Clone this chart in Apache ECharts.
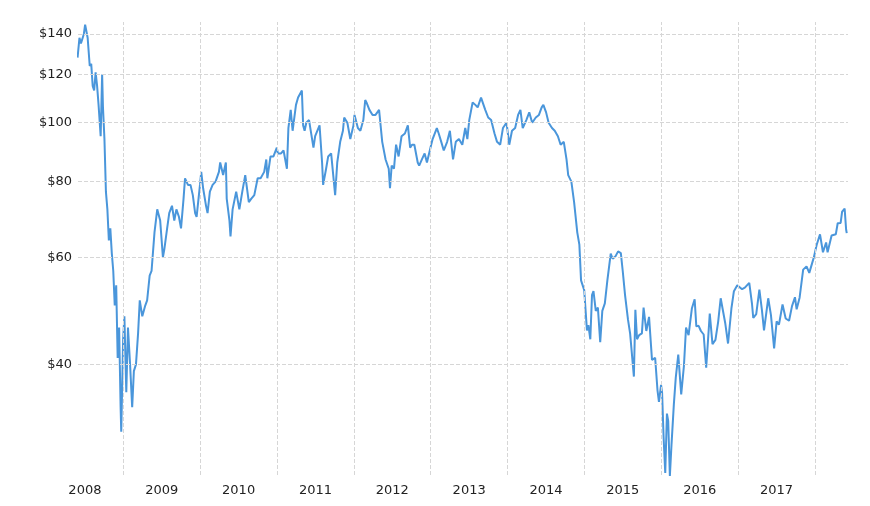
<!DOCTYPE html>
<html><head><meta charset="utf-8">
<script src="https://cdn.jsdelivr.net/npm/echarts@6/dist/echarts.min.js"></script>
<style>html,body{margin:0;padding:0;background:#fff}#c{width:870px;height:506px}</style>
</head><body><div id="c"></div>
<script>
var dates = ["2008-05-28","2008-06-06","2008-06-13","2008-06-20","2008-06-27","2008-07-03","2008-07-11","2008-07-15","2008-07-25","2008-08-01","2008-08-08","2008-08-15","2008-08-22","2008-08-29","2008-09-05","2008-09-15","2008-09-22","2008-09-26","2008-10-03","2008-10-10","2008-10-17","2008-10-24","2008-10-31","2008-11-07","2008-11-14","2008-11-21","2008-11-28","2008-12-05","2008-12-12","2008-12-19","2008-12-22","2008-12-31",
"2009-01-06","2009-01-15","2009-01-23","2009-02-02","2009-02-12","2009-02-20","2009-03-02","2009-03-12","2009-03-20","2009-04-01","2009-04-15","2009-04-24","2009-05-06","2009-05-15","2009-05-29","2009-06-11","2009-06-25","2009-07-08","2009-07-15","2009-07-28","2009-08-07","2009-08-20","2009-08-31","2009-09-10","2009-09-22","2009-10-02","2009-10-14","2009-10-21","2009-11-04","2009-11-16","2009-11-27","2009-12-08","2009-12-15","2009-12-31",
"2010-01-06","2010-01-15","2010-01-29","2010-02-05","2010-02-16","2010-03-01","2010-03-15","2010-03-31","2010-04-06","2010-04-20","2010-05-03","2010-05-07","2010-05-20","2010-05-25","2010-06-04","2010-06-21","2010-07-06","2010-07-20","2010-08-03","2010-08-20","2010-09-01","2010-09-15","2010-10-01","2010-10-15","2010-11-01","2010-11-11","2010-11-16","2010-12-01","2010-12-15","2010-12-31",
"2011-01-05","2011-01-20","2011-02-01","2011-02-17","2011-02-24","2011-03-07","2011-03-16","2011-04-01","2011-04-11","2011-04-29","2011-05-05","2011-05-12","2011-05-20","2011-06-02","2011-06-23","2011-07-01","2011-07-22","2011-08-03","2011-08-08","2011-08-22","2011-09-01","2011-09-15","2011-10-04","2011-10-14","2011-10-28","2011-11-10","2011-11-16","2011-12-01","2011-12-15","2011-12-30",
"2012-01-04","2012-01-20","2012-02-01","2012-02-15","2012-02-24","2012-03-01","2012-03-15","2012-03-30","2012-04-13","2012-04-30","2012-05-15","2012-05-31","2012-06-15","2012-06-21","2012-06-29","2012-07-10","2012-07-20","2012-08-01","2012-08-15","2012-08-31","2012-09-14","2012-09-25","2012-10-04","2012-10-15","2012-10-31","2012-11-07","2012-11-20","2012-12-03","2012-12-14","2012-12-31",
"2013-01-10","2013-01-30","2013-02-08","2013-02-20","2013-03-04","2013-03-20","2013-04-02","2013-04-17","2013-04-30","2013-05-15","2013-05-31","2013-06-14","2013-06-24","2013-07-03","2013-07-19","2013-08-01","2013-08-12","2013-08-28","2013-09-06","2013-09-17","2013-10-01","2013-10-15","2013-10-31","2013-11-12","2013-11-27","2013-12-10","2013-12-27",
"2014-01-09","2014-01-22","2014-02-06","2014-02-20","2014-03-03","2014-03-14","2014-03-31","2014-04-14","2014-04-28","2014-05-15","2014-05-30","2014-06-12","2014-06-20","2014-07-03","2014-07-15","2014-07-31","2014-08-13","2014-08-28","2014-09-10","2014-09-25","2014-10-08","2014-10-16","2014-10-31","2014-11-13","2014-11-28","2014-12-08","2014-12-16","2014-12-31",
"2015-01-13","2015-01-20","2015-01-29","2015-02-06","2015-02-13","2015-02-24","2015-03-06","2015-03-17","2015-03-27","2015-04-08","2015-04-20","2015-05-06","2015-05-15","2015-05-29","2015-06-10","2015-06-23","2015-07-02","2015-07-13","2015-07-27","2015-08-06","2015-08-24","2015-08-31","2015-09-08","2015-09-18","2015-10-01","2015-10-09","2015-10-22","2015-11-04","2015-11-18","2015-12-03","2015-12-14","2015-12-21","2015-12-31",
"2016-01-05","2016-01-12","2016-01-20","2016-01-28","2016-02-03","2016-02-11","2016-02-19","2016-03-01","2016-03-10","2016-03-22","2016-04-05","2016-04-18","2016-04-28","2016-05-10","2016-05-26","2016-06-08","2016-06-16","2016-06-27","2016-07-08","2016-07-21","2016-08-02","2016-08-19","2016-09-01","2016-09-15","2016-09-28","2016-10-10","2016-10-19","2016-11-01","2016-11-14","2016-11-30","2016-12-12","2016-12-28",
"2017-01-06","2017-01-20","2017-02-02","2017-02-23","2017-03-08","2017-03-14","2017-03-28","2017-04-12","2017-04-24","2017-05-04","2017-05-24","2017-06-06","2017-06-21","2017-07-03","2017-07-14","2017-07-31","2017-08-15","2017-08-31","2017-09-14","2017-09-28","2017-10-06","2017-10-20","2017-11-06","2017-11-22","2017-12-05","2017-12-26",
"2018-01-09","2018-01-25","2018-02-08","2018-02-23","2018-03-02","2018-03-21","2018-04-10","2018-04-19","2018-05-03","2018-05-10","2018-05-22","2018-05-29","2018-06-01"];
var prices = [128,138,135,134,140,145,145,138,124,125,115,113,121,115,107,95,120,106,94,77,72,64,67,61,57,50,54,41,46,34,31,44,
48,36,46,40,34,39,40,45,51,48,50,51,56,57,66,72,69,60,62,67,71,73,69,72,70,67,75,81,79,79,76,71,70,79,
83,78,72.9,71,77,79,80,83,86,82,86,75,69,65,72,77,72,77,82,74,75,76,81,81,83,87,81,88,88,91,
89,89,90,84,98,105,97,107,110,113,99,97,100,101,91,95,99,86,79,84,88,89,76,86,93,97,102,100,94,99,
103,98,97,101,109,108,105,103,103,105,93,87,84,78,85,84,92,88,95,96,99,91,92,92,86,85,87,89,86,91,
94,98,96,93,90,93,97,87,93,94,92,98,94,101,108,107,106,110,110,105,102,101,96,93,92,98,100,
92,97,98,103,105,98,101,104,100,102,103,106,107,104,100,98,97,95,92,93,87,82,80,74,66,63,55,53,
45.5,46.4,44,52,52.8,49,49.6,43.5,49,50.4,55,60.9,59.7,60.3,61.4,61,57,52,47.4,45,38.2,49.2,44,44.7,45,49.6,45.4,47.9,40.7,41,36.3,34.7,37,
35.9,30.4,26.5,33.2,32.3,26.2,29.6,34.4,38,41.5,35.7,39.8,46,44.7,49.5,51.2,46.2,46.3,45.4,44.8,39.5,48.5,43.2,43.9,47,51.4,51.6,46.7,43.3,49.4,52.8,54,
54,53.2,53.5,54.5,50.3,47.7,48.4,53.1,49.2,45.5,51.4,48.2,42.5,47.1,46.5,50.2,47.6,47.2,49.9,51.6,49.3,51.5,57.3,58,56.6,59.9,
62.9,65.5,61.2,63.5,61.2,65.2,65.5,68.3,68.4,71.4,72.2,66.7,65.8];
var yTicks = [40,60,80,100,120,140];
var yearGrid = [2009,2010,2011,2012,2013,2014,2015,2016,2017,2018];
var yearLabels = [2008,2009,2010,2011,2012,2013,2014,2015,2016,2017];

function dec(s){var d=new Date(s+"T00:00:00Z");var y=d.getUTCFullYear();var st=Date.UTC(y,0,1),en=Date.UTC(y+1,0,1);return y+(d-st)/(en-st);}
var data = dates.map(function(s,i){return [dec(s),prices[i]];});
var gl = {type:'dashed',color:'#d6d6d6',width:1,dashOffset:0};
var chart = echarts.init(document.getElementById('c'));
chart.setOption({
  animation:false,
  grid:{left:78,right:22,top:22,bottom:31},
  xAxis:{type:'value',min:2008.41,max:2018.43,
    axisLine:{show:false},axisTick:{show:false},splitLine:{show:false},
    axisLabel:{customValues:yearLabels.map(function(y){return y+0.5;}),formatter:function(v){return String(Math.floor(v));},
      color:'#222',fontSize:13,fontFamily:'DejaVu Sans',margin:9}},
  yAxis:{type:'log',logBase:10,min:26.3,max:146.5,
    axisLine:{show:false},axisTick:{show:false},splitLine:{show:false},axisLabel:{show:false}},
  series:[{type:'line',data:data,showSymbol:false,symbol:'none',
    lineStyle:{color:'#4a96db',width:2},itemStyle:{color:'#4a96db'},
    markLine:{silent:true,symbol:'none',animation:false,
      data:yearGrid.map(function(y){return {xAxis:y,label:{show:false},lineStyle:gl};})
        .concat(yTicks.map(function(v){return {yAxis:v,lineStyle:gl,
          label:{show:true,position:'start',formatter:'$'+v,color:'#222',fontSize:13,fontFamily:'DejaVu Sans',distance:6}};}))
    }}]
});
</script></body></html>
